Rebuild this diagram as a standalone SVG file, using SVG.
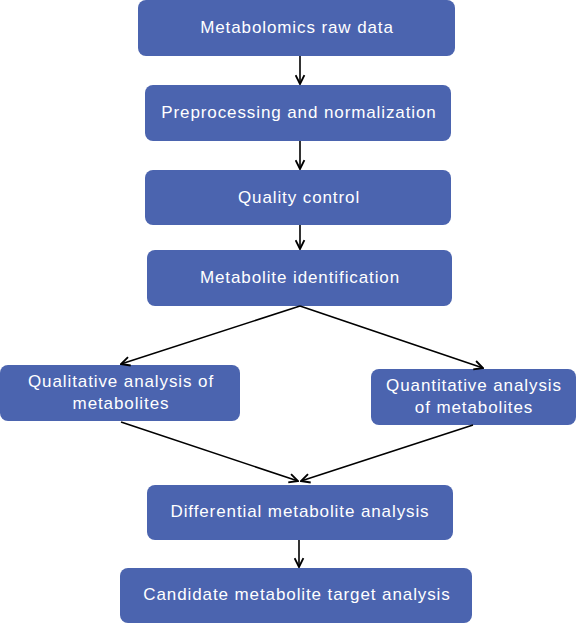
<svg xmlns="http://www.w3.org/2000/svg" width="577" height="624" viewBox="0 0 577 624">
<defs>
<marker id="ah" viewBox="0 0 10 10" refX="9" refY="5" markerWidth="11" markerHeight="11" markerUnits="userSpaceOnUse" orient="auto">
<path d="M1,1 L9,5 L1,9" fill="none" stroke="#000" stroke-width="1.7"/>
</marker>
<style>
rect{fill:#4B64AF}
text{fill:#fff;font-family:"Liberation Sans",Arial,sans-serif;font-size:17px;letter-spacing:0.9px;text-anchor:middle}
.c line{stroke:#000;stroke-width:1.6;marker-end:url(#ah)}
</style>
</defs>
<rect x="0" y="0" width="577" height="624" style="fill:#fff"/>
<g id="n1"><rect x="138" y="0" width="317" height="56" rx="8"/><text x="297" y="33">Metabolomics raw data</text></g>
<g id="n2"><rect x="145" y="85" width="306" height="56" rx="8"/><text x="299" y="118">Preprocessing and normalization</text></g>
<g id="n3"><rect x="145" y="170" width="306" height="55" rx="8"/><text x="299" y="203">Quality control</text></g>
<g id="n4"><rect x="147" y="250" width="305" height="56" rx="8"/><text x="300" y="283">Metabolite identification</text></g>
<g id="n5"><rect x="0" y="365" width="240" height="56" rx="8"/><text x="121" y="387">Qualitative analysis of</text><text x="121" y="409">metabolites</text></g>
<g id="n6"><rect x="371" y="369" width="205" height="56" rx="8"/><text x="474" y="391">Quantitative analysis</text><text x="474" y="413">of metabolites</text></g>
<g id="n7"><rect x="147" y="485" width="306" height="55" rx="8"/><text x="300" y="517">Differential metabolite analysis</text></g>
<g id="n8"><rect x="120" y="568" width="352" height="55" rx="8"/><text x="297" y="600">Candidate metabolite target analysis</text></g>
<g class="c">
<line x1="300" y1="56" x2="300" y2="84"/>
<line x1="300" y1="141" x2="300" y2="169"/>
<line x1="300" y1="225" x2="300" y2="249"/>
<line x1="300" y1="306" x2="121" y2="364"/>
<line x1="300" y1="306" x2="483" y2="368"/>
<line x1="121" y1="422" x2="298" y2="481"/>
<line x1="473" y1="425" x2="301" y2="481"/>
<line x1="299" y1="540" x2="299" y2="567"/>
</g>
</svg>
